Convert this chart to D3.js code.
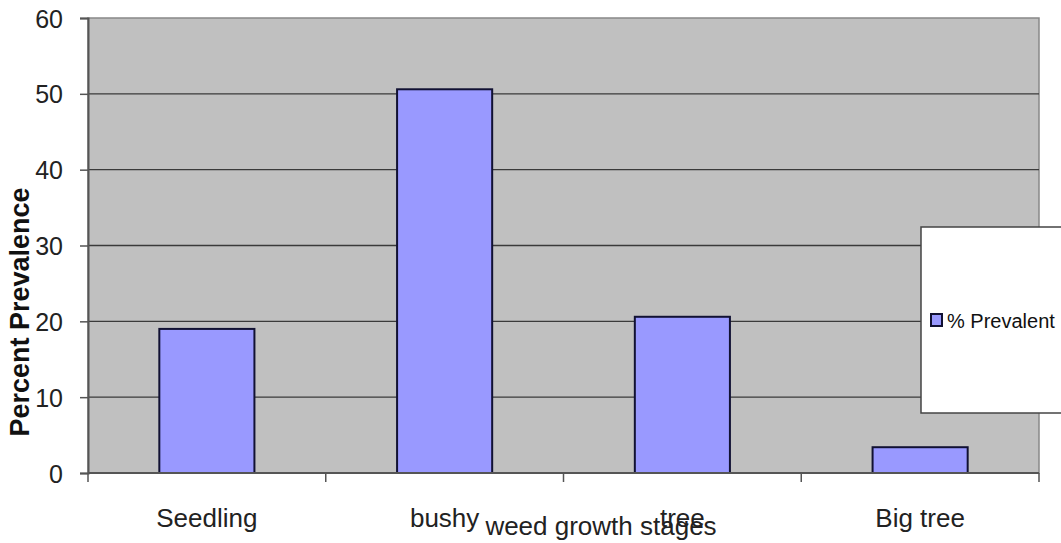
<!DOCTYPE html>
<html>
<head>
<meta charset="utf-8">
<script src="https://cdn.jsdelivr.net/npm/d3@7"></script>
<style>
  html, body { margin: 0; padding: 0; background: #fff; }
  svg { display: block; }
  text { font-family: "Liberation Sans", Arial, sans-serif; }
</style>
</head>
<body>
<svg id="chart" width="1061" height="543"></svg>
<script>
const categories = ["Seedling", "bushy", "tree", "Big tree"];
const values = [19.0, 50.6, 20.6, 3.4];
const yTicks = [0, 10, 20, 30, 40, 50, 60];
const seriesName = "% Prevalent";
const xTitle = "weed growth stages";
const yTitle = "Percent Prevalence";

const svg = d3.select("#chart");
const mLeft = 88, mRight = 1039, mTop = 18, mBottom = 473;

const x = d3.scaleBand().domain(categories).range([mLeft, mRight]).paddingInner(0.6).paddingOuter(0.3);
const xEdges = d3.scalePoint().domain(d3.range(categories.length + 1)).range([mLeft, mRight]);
const y = d3.scaleLinear().domain([0, 60]).range([mBottom, mTop]);

// plot background
svg.append("rect").attr("x", mLeft).attr("y", mTop).attr("width", mRight - mLeft).attr("height", mBottom - mTop)
  .attr("fill", "#c0c0c0").attr("stroke", "#888").attr("stroke-width", 1.5);

// gridlines
svg.append("g").selectAll("line").data(yTicks.filter(d => d > 0 && d < 60)).join("line")
  .attr("x1", mLeft).attr("x2", mRight).attr("y1", d => y(d)).attr("y2", d => y(d))
  .attr("stroke", "#3a3a3a").attr("stroke-width", 1.3);

// bars
svg.append("g").selectAll("rect").data(values).join("rect")
  .attr("x", (d, i) => x(categories[i]))
  .attr("width", x.bandwidth())
  .attr("y", d => y(d))
  .attr("height", d => y(0) - y(d))
  .attr("fill", "#9999ff").attr("stroke", "#111133").attr("stroke-width", 2);

// y axis
const yAxis = d3.axisLeft(y).tickValues(yTicks).tickSize(8).tickPadding(17);
const gy = svg.append("g").attr("transform", `translate(${mLeft},0)`).call(yAxis);
gy.attr("font-size", 25).attr("font-family", "Liberation Sans, Arial, sans-serif");
gy.select(".domain").attr("stroke", "#555").attr("stroke-width", 2);
gy.selectAll(".tick line").attr("stroke", "#555").attr("stroke-width", 1.5);
gy.selectAll(".tick text").attr("fill", "#222").attr("dy", "0.36em");

// x axis
svg.append("line").attr("x1", mLeft).attr("x2", mRight).attr("y1", mBottom).attr("y2", mBottom)
  .attr("stroke", "#555").attr("stroke-width", 2);
svg.append("g").selectAll("line").data(d3.range(categories.length + 1)).join("line")
  .attr("x1", d => xEdges(d)).attr("x2", d => xEdges(d)).attr("y1", mBottom).attr("y2", mBottom + 9)
  .attr("stroke", "#555").attr("stroke-width", 1.5);
svg.append("g").selectAll("text").data(categories).join("text")
  .attr("x", d => x(d) + x.bandwidth() / 2)
  .attr("y", 527)
  .attr("text-anchor", "middle").attr("font-size", 26).attr("fill", "#222")
  .text(d => d);

// axis titles
svg.append("text").attr("x", 601).attr("y", 535).attr("text-anchor", "middle")
  .attr("font-size", 26).attr("fill", "#222").text(xTitle);
svg.append("text").attr("transform", "translate(29,312) rotate(-90)").attr("text-anchor", "middle")
  .attr("font-size", 27).attr("font-weight", "bold").attr("fill", "#111").text(yTitle);

// legend
const lg = svg.append("g");
lg.append("rect").attr("x", 921).attr("y", 227).attr("width", 160).attr("height", 186)
  .attr("fill", "#fff").attr("stroke", "#444").attr("stroke-width", 1.5);
lg.append("rect").attr("x", 931).attr("y", 314).attr("width", 11).attr("height", 12)
  .attr("fill", "#9999ff").attr("stroke", "#111133").attr("stroke-width", 2);
lg.append("text").attr("x", 947).attr("y", 328).attr("font-size", 20).attr("fill", "#111").text(seriesName);
</script>
</body>
</html>
